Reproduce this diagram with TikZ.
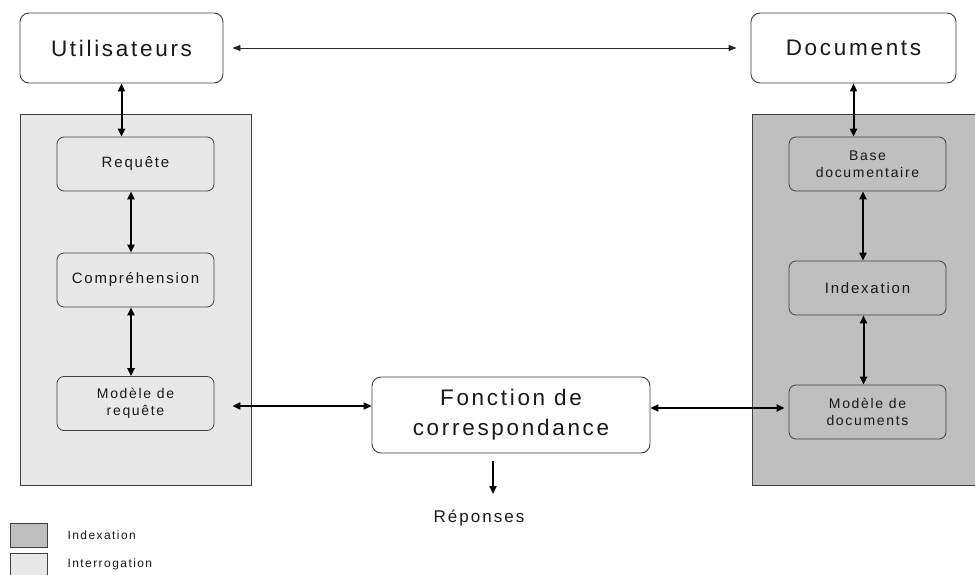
\documentclass[tikz,border=0pt]{standalone}
\usepackage{fontspec}
\setmainfont{Liberation Sans}[LetterSpace=12]
\usepackage{tikz}
\usetikzlibrary{arrows.meta}

\begin{document}
\begin{tikzpicture}[x=1pt, y=-1pt,
    bigbox/.style={draw=black!75, line width=0.9pt, rounded corners=9pt, fill=white,
        minimum width=203pt, minimum height=70pt, font=\fontsize{22.5}{27}\selectfont, text=black!90},
    smallbox/.style={draw=black!75, line width=0.8pt, rounded corners=7pt,
        minimum width=157pt, minimum height=54pt, align=center,
        font=\fontsize{15}{18}\selectfont, text=black!90},
    biarrow/.style={{Triangle[length=8pt,width=7pt]}-{Triangle[length=8pt,width=7pt]}, line width=2pt},
    thinarrow/.style={{Triangle[length=8pt,width=6pt]}-{Triangle[length=8pt,width=6pt]}, line width=0.9pt, draw=black!85}]

\useasboundingbox (0,0) rectangle (975,575);

% les deux zones
\draw[draw=black!75, fill=black!9, line width=0.8pt] (20,114) rectangle (251,485);
\draw[draw=black!75, fill=black!25, line width=0.8pt] (752,114) rectangle (978,485);

% boites du haut
\node[bigbox] (util) at (121.5,48) {Utilisateurs};
\node[bigbox, minimum width=205pt] (docs) at (853.5,48) {Documents};

% interrogation
\node[smallbox, fill=black!9] (req) at (135.5,164) {Requête};
\node[smallbox, fill=black!9] (compr) at (135.5,280) {Compréhension};
\node[smallbox, fill=black!9, font=\fontsize{14}{17}\selectfont] (modreq) at (135.5,403.5) {Modèle de\\requête};

% indexation
\node[smallbox, fill=black!25, font=\fontsize{14}{17}\selectfont] (base) at (867.5,164) {Base\\documentaire};
\node[smallbox, fill=black!25] (idx) at (867.5,288) {Indexation};
\node[smallbox, fill=black!25, font=\fontsize{14}{17}\selectfont] (moddoc) at (867.5,412) {Modèle de\\documents};

% fonction
\node[bigbox, minimum width=278pt, minimum height=76pt, align=center, font=\fontsize{22.5}{30}\selectfont] (fonc) at (511,415) {Fonction de\\correspondance};
\node[font=\fontsize{17}{20}\selectfont, text=black!90] (rep) at (479,518) {Réponses};
\coordinate (repend) at (493,494);

% fleches
\draw[thinarrow, shorten <=9pt, shorten >=14pt] (util.east) -- (docs.west);
\draw[biarrow] (util.south) -- (util.south |- req.north);
\draw[biarrow] ([xshift=-4.5pt]req.south) -- ([xshift=-4.5pt]compr.north);
\draw[biarrow] ([xshift=-4.5pt]compr.south) -- ([xshift=-4.5pt]modreq.north);
\draw[biarrow] (docs.south) -- (docs.south |- base.north);
\draw[biarrow] ([xshift=-4.5pt]base.south) -- ([xshift=-4.5pt]idx.north);
\draw[biarrow] ([xshift=-4pt]idx.south) -- ([xshift=-4pt]moddoc.north);
\draw[biarrow, shorten <=18pt] ([yshift=-2.5pt]modreq.east) -- ([yshift=-2.5pt]modreq.east -| fonc.west);
\draw[biarrow, shorten >=4pt] ([yshift=4pt]moddoc.west -| fonc.east) -- ([yshift=4pt]moddoc.west);
\draw[-{Triangle[length=8pt,width=7pt]}, line width=2pt, shorten <=8pt] (repend |- fonc.south) -- (repend);

% legende
\draw[draw=black!75, fill=black!25, line width=0.8pt] (10,523) rectangle (47,547);
\node[anchor=west, font=\fontsize{12}{14}\selectfont, text=black!90] (lgidx) at (64,535) {Indexation};
\draw[draw=black!75, fill=black!9, line width=0.8pt] (10,553) rectangle (47,577);
\node[anchor=west, font=\fontsize{12}{14}\selectfont, text=black!90] (lgint) at (64,564) {Interrogation};

\end{tikzpicture}
\end{document}
